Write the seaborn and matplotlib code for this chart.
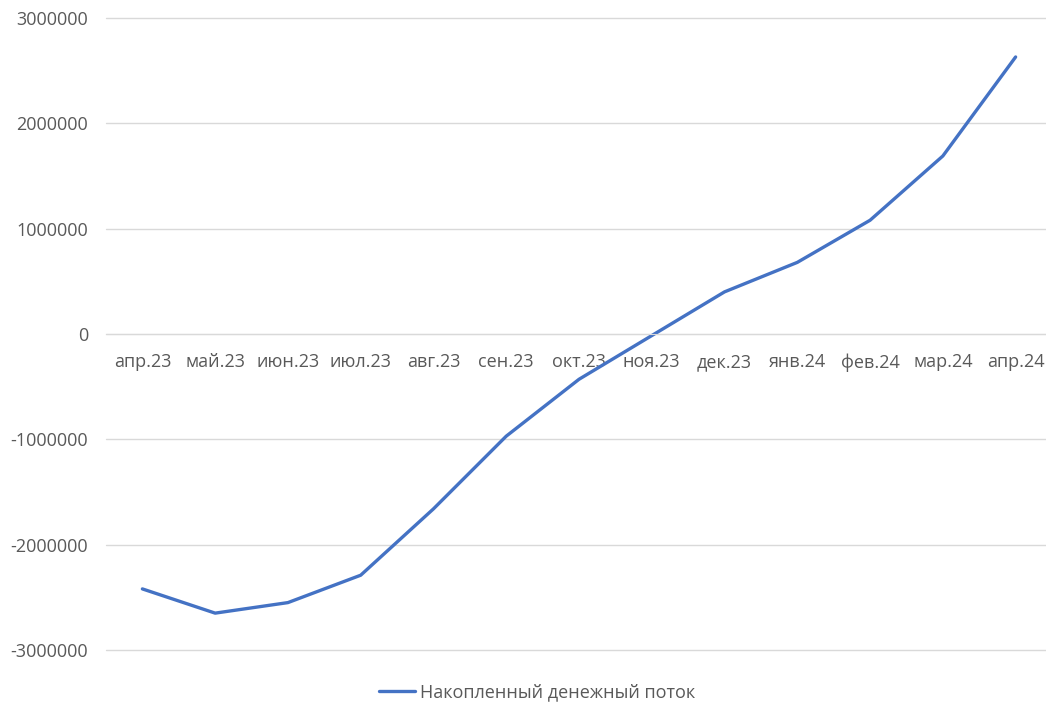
import pandas as pd
import matplotlib.pyplot as plt
import seaborn as sns

months = ["апр.23", "май.23", "июн.23", "июл.23", "авг.23", "сен.23", "окт.23",
          "ноя.23", "дек.23", "янв.24", "фев.24", "мар.24", "апр.24"]
cash_flow = [-2420000, -2650000, -2550000, -2290000, -1660000, -970000, -430000,
             -15000, 400000, 680000, 1080000, 1690000, 2630000]
y_ticks = [-3000000, -2000000, -1000000, 0, 1000000, 2000000, 3000000]
series_name = "Накопленный денежный поток"

sns.set_style("white")
plt.rcParams["font.family"] = ["Open Sans", "DejaVu Sans"]

df = pd.DataFrame({"month": range(len(months)), "value": cash_flow})

fig = plt.figure(figsize=(10.46, 7.05), dpi=100)
ax = fig.add_axes([106 / 1046, 1 - 650 / 705, 946 / 1046, 632 / 705])

sns.lineplot(data=df, x="month", y="value", ax=ax, color="#4472C4",
             linewidth=2.4, label=series_name, legend=False)

ax.set_xlim(-0.5, len(months) - 0.5)
ax.set_ylim(-3000000, 3000000)
ax.set_yticks(y_ticks)
ax.set_yticklabels([str(v) for v in y_ticks])
ax.set_xticks(range(len(months)))
ax.set_xticklabels(months)
ax.yaxis.grid(True, color="#d9d9d9", linewidth=1)
for gl in ax.get_ygridlines():
    gl.set_clip_on(False)
ax.set_axisbelow(True)

for s in ["top", "right", "left"]:
    ax.spines[s].set_visible(False)
ax.spines["bottom"].set_position(("data", 0))
ax.spines["bottom"].set_color("#d9d9d9")
ax.tick_params(axis="x", length=0, pad=14, labelsize=13, labelcolor="#595959")
ax.tick_params(axis="y", length=0, pad=13, labelsize=13, labelcolor="#595959")
ax.set_xlabel("")
ax.set_ylabel("")

handles, labels = ax.get_legend_handles_labels()
fig.legend(handles, labels, loc="center", bbox_to_anchor=(537 / 1046, 1 - 692 / 705),
           frameon=False, fontsize=13, labelcolor="#595959",
           handlelength=2.0, handletextpad=0.25)

fig.savefig("out.png", dpi=100)
